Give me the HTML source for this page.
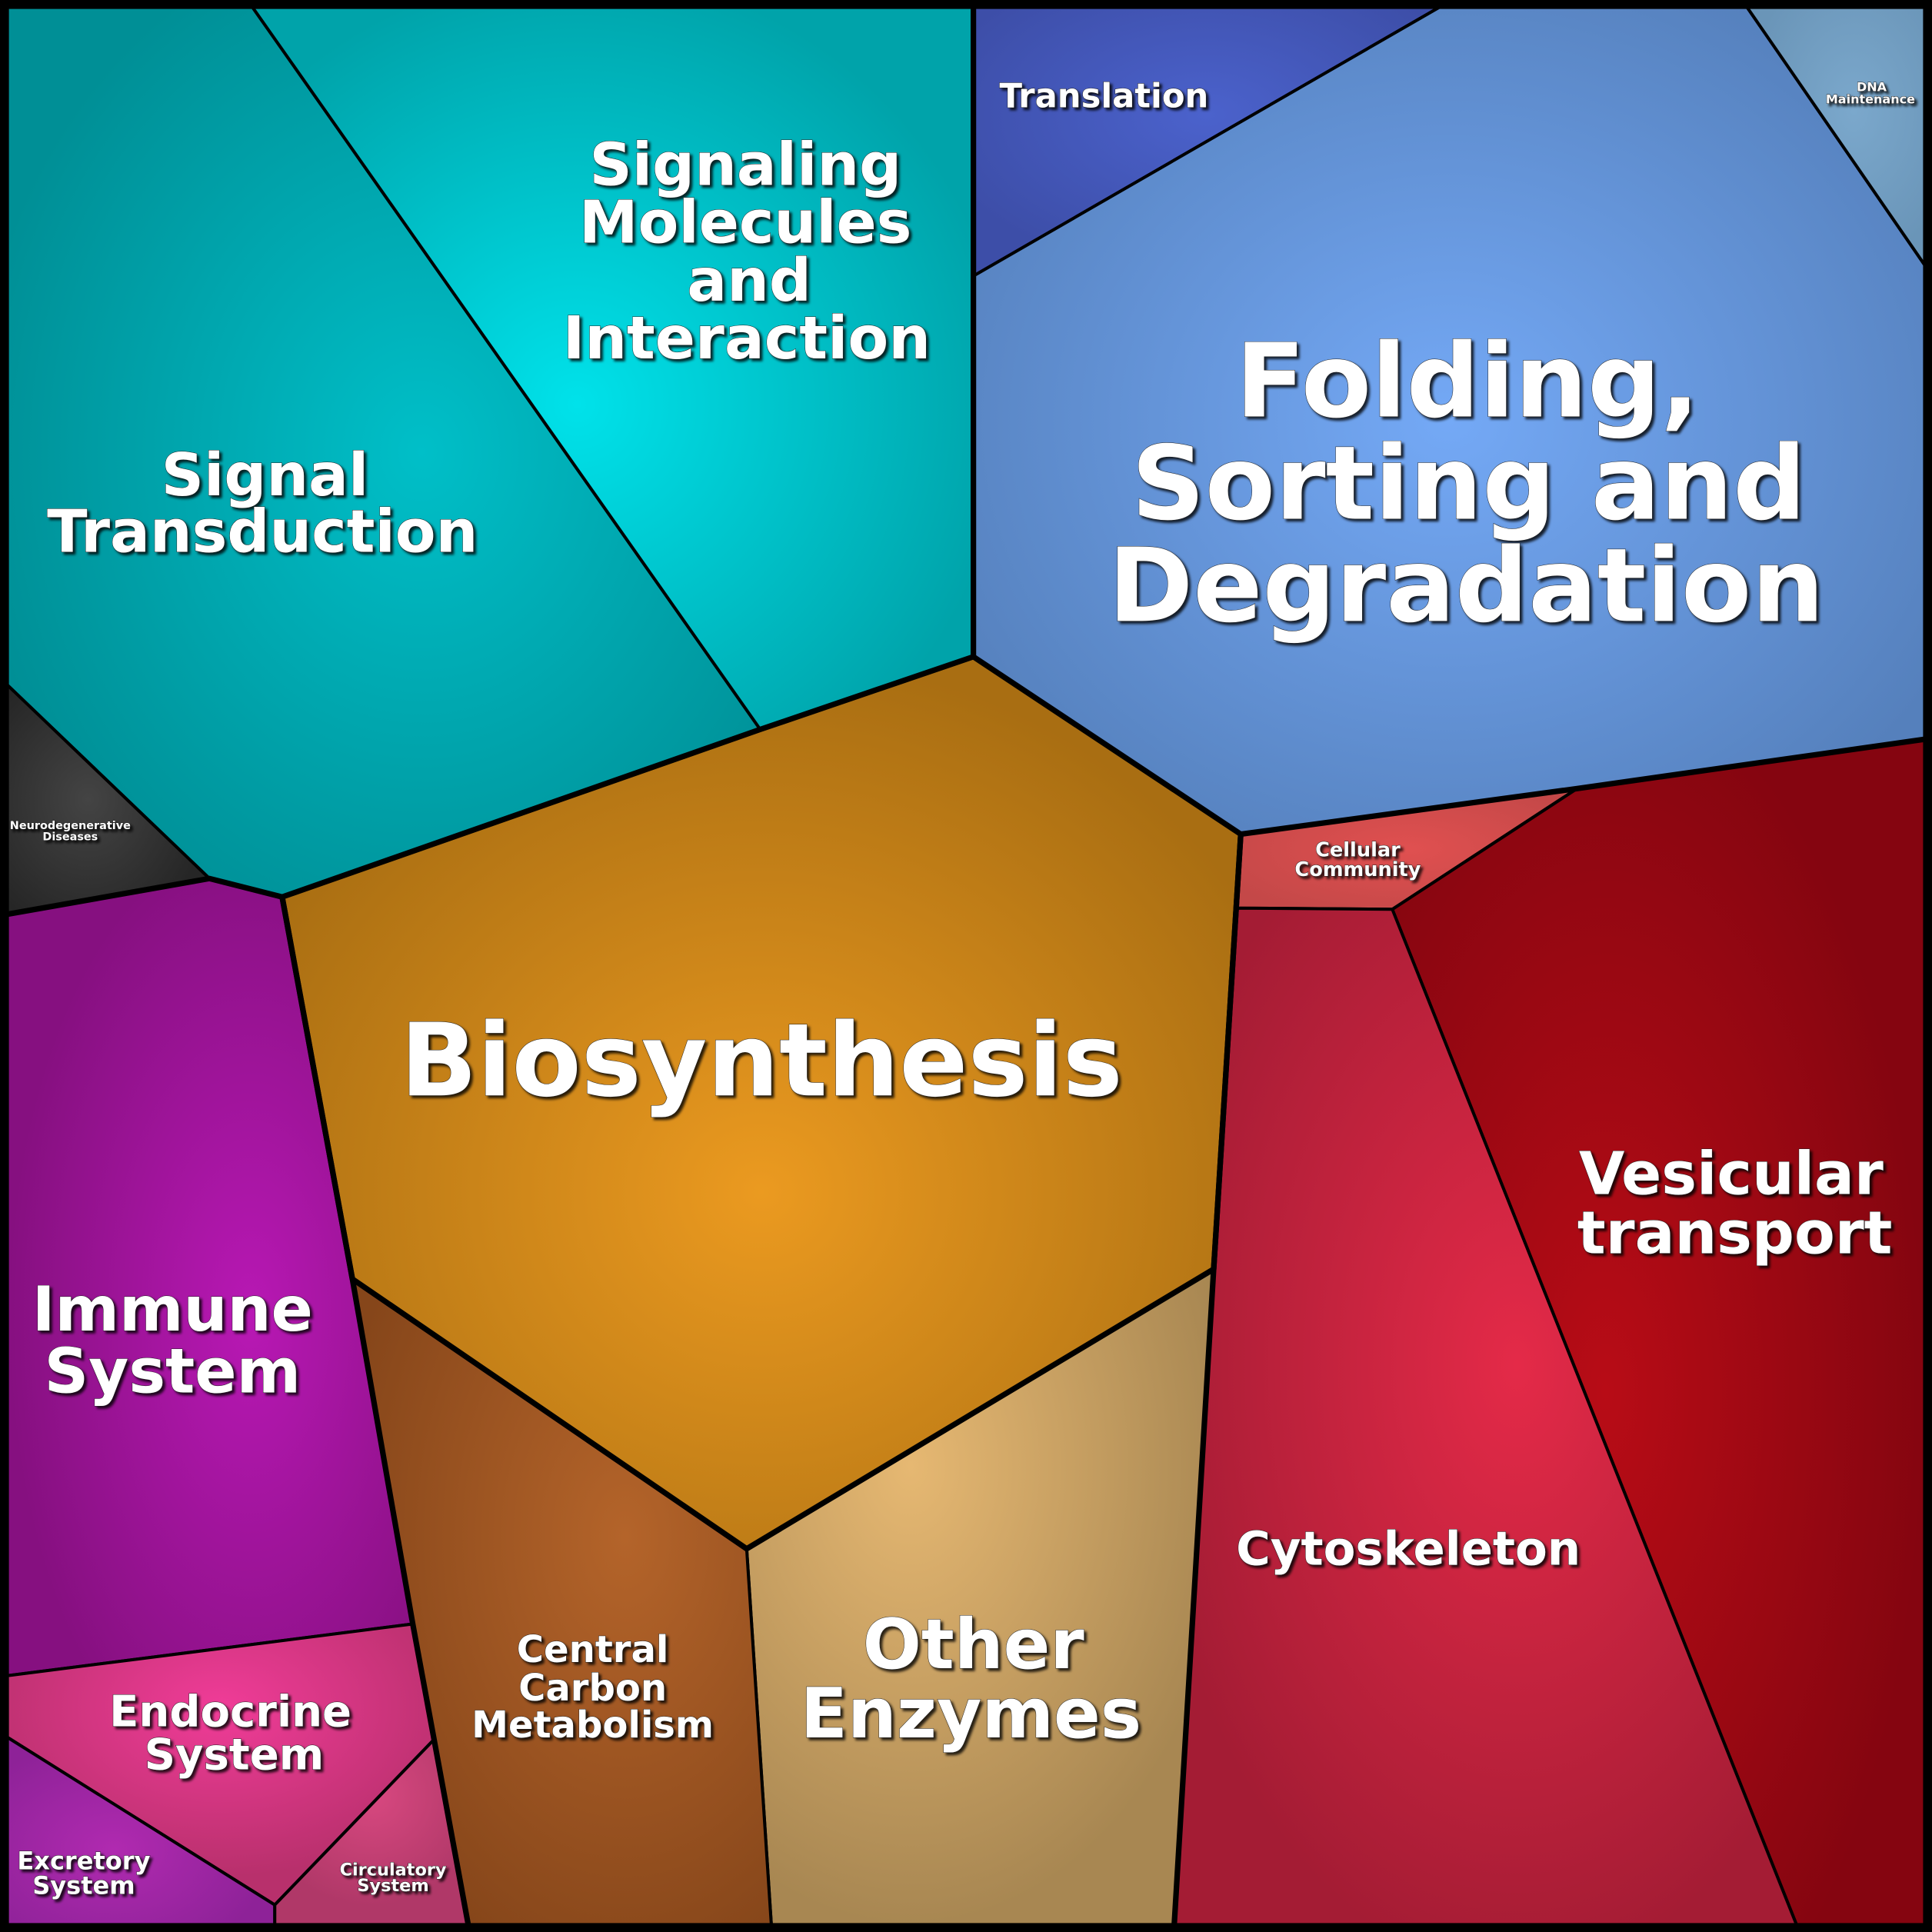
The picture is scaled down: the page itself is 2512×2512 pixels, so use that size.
<!DOCTYPE html>
<html><head><meta charset="utf-8"><style>
html,body{margin:0;padding:0;background:#000;}
svg{display:block;}
text{font-family:"DejaVu Sans","Liberation Sans",sans-serif;font-weight:bold;fill:#fff;text-anchor:middle;paint-order:stroke;stroke:#222;stroke-width:0.6px;}
</style></head><body>
<svg width="2512" height="2512" viewBox="0 0 1568 1568" xmlns="http://www.w3.org/2000/svg">
<defs>
<filter id="sh" x="-10%" y="-10%" width="120%" height="120%"><feDropShadow dx="2" dy="2" stdDeviation="1" flood-color="#000" flood-opacity="0.8"/></filter>
<radialGradient id="gST" cx="0.55" cy="0.5" r="0.6"><stop offset="0" stop-color="#00bfc8"/><stop offset="1" stop-color="#008f96"/></radialGradient>
<radialGradient id="gSM" cx="0.45" cy="0.55" r="0.6"><stop offset="0" stop-color="#00e2ea"/><stop offset="1" stop-color="#00a3aa"/></radialGradient>
<radialGradient id="gTr" cx="0.5" cy="0.4" r="0.6"><stop offset="0" stop-color="#4b62cc"/><stop offset="1" stop-color="#3d4ea8"/></radialGradient>
<radialGradient id="gFo" cx="0.5" cy="0.5" r="0.6"><stop offset="0" stop-color="#74a9f6"/><stop offset="1" stop-color="#5580bc"/></radialGradient>
<radialGradient id="gDN" cx="0.6" cy="0.4" r="0.6"><stop offset="0" stop-color="#7ba8cc"/><stop offset="1" stop-color="#6a95b8"/></radialGradient>
<radialGradient id="gNe" cx="0.4" cy="0.5" r="0.6"><stop offset="0" stop-color="#444"/><stop offset="1" stop-color="#262626"/></radialGradient>
<radialGradient id="gBi" cx="0.5" cy="0.6" r="0.6"><stop offset="0" stop-color="#eb9a20"/><stop offset="1" stop-color="#a96e12"/></radialGradient>
<radialGradient id="gCC" cx="0.5" cy="0.5" r="0.6"><stop offset="0" stop-color="#e05050"/><stop offset="1" stop-color="#c44848"/></radialGradient>
<radialGradient id="gVe" cx="0.4" cy="0.55" r="0.6"><stop offset="0" stop-color="#b80c16"/><stop offset="1" stop-color="#850510"/></radialGradient>
<radialGradient id="gCy" cx="0.55" cy="0.45" r="0.6"><stop offset="0" stop-color="#e42a48"/><stop offset="1" stop-color="#a41c34"/></radialGradient>
<radialGradient id="gOE" cx="0.35" cy="0.3" r="0.7"><stop offset="0" stop-color="#e6b872"/><stop offset="1" stop-color="#a88752"/></radialGradient>
<radialGradient id="gCe" cx="0.65" cy="0.4" r="0.7"><stop offset="0" stop-color="#b4642a"/><stop offset="1" stop-color="#86461a"/></radialGradient>
<radialGradient id="gIm" cx="0.6" cy="0.55" r="0.6"><stop offset="0" stop-color="#b818b4"/><stop offset="1" stop-color="#861080"/></radialGradient>
<radialGradient id="gEn" cx="0.5" cy="0.3" r="0.6"><stop offset="0" stop-color="#f03c98"/><stop offset="1" stop-color="#b8306c"/></radialGradient>
<radialGradient id="gEx" cx="0.4" cy="0.6" r="0.6"><stop offset="0" stop-color="#b02ab0"/><stop offset="1" stop-color="#8e2298"/></radialGradient>
<radialGradient id="gCi" cx="0.5" cy="0.3" r="0.6"><stop offset="0" stop-color="#d84880"/><stop offset="1" stop-color="#b03868"/></radialGradient>
</defs>
<rect width="1568" height="1568" fill="#000"/>
<g stroke="#000" stroke-width="2.5" stroke-linejoin="round">
<polygon fill="url(#gST)" points="6,6 205,6 617,592 229,728 170,713 6,556"/>
<polygon fill="url(#gSM)" points="205,6 790,6 790,533 617,592"/>
<polygon fill="url(#gTr)" points="790,6 1168,6 790,224"/>
<polygon fill="url(#gFo)" points="1168,6 1418,6 1562,215 1562,600 1280,640 1007,677 790,533 790,224"/>
<polygon fill="url(#gDN)" points="1418,6 1562,6 1562,215"/>
<polygon fill="url(#gNe)" points="6,556 170,713 6,742"/>
<polygon fill="url(#gCC)" points="1007,677 1280,640 1130,738 1004,737"/>
<polygon fill="url(#gVe)" points="1280,640 1562,600 1562,1562 1458,1562 1130,738"/>
<polygon fill="url(#gCy)" points="1004,737 1130,738 1458,1562 953,1562 985,1030"/>
<polygon fill="url(#gOE)" points="985,1030 953,1562 626,1562 606,1257"/>
<polygon fill="url(#gCe)" points="286,1038 606,1257 626,1562 380,1562 352,1412 335,1318"/>
<polygon fill="url(#gIm)" points="6,742 170,713 229,728 286,1038 335,1318 6,1360"/>
<polygon fill="url(#gEn)" points="6,1360 335,1318 352,1412 223,1546 6,1410"/>
<polygon fill="url(#gEx)" points="6,1410 223,1546 223,1562 6,1562"/>
<polygon fill="url(#gCi)" points="223,1546 352,1412 380,1562 223,1562"/>
<polygon fill="url(#gBi)" stroke-width="4.5" points="229,728 617,592 790,533 1007,677 985,1030 606,1257 286,1038"/>
</g>
<g fill="none" stroke="#000" stroke-width="4.5">
<polyline points="790,6 790,533"/>
<polyline points="6,742 170,713 229,728"/>
<polyline points="1007,677 1280,640 1562,600"/>
<polyline points="1007,677 985,1030 953,1562"/>
<polyline points="229,728 286,1038 335,1318 380,1562"/>
<rect x="3" y="3" width="1562" height="1562" stroke-width="7"/>
</g>
<g filter="url(#sh)">
<text font-size="48" x="215" y="402">Signal</text>
<text font-size="48" x="213" y="448">Transduction</text>
<text font-size="48" x="605" y="150">Signaling</text>
<text font-size="48" x="605" y="197">Molecules</text>
<text font-size="48" x="608" y="244">and</text>
<text font-size="48" x="606" y="291">Interaction</text>
<text font-size="27" x="896" y="87">Translation</text>
<text font-size="83" x="1191" y="338">Folding,</text>
<text font-size="83" x="1192" y="421">Sorting and</text>
<text font-size="83" x="1190" y="504">Degradation</text>
<text font-size="10" x="1519" y="74" stroke-width="0.3">DNA</text>
<text font-size="10" x="1518" y="84" stroke-width="0.3">Maintenance</text>
<text font-size="9" x="57" y="673" stroke-width="0.3">Neurodegenerative</text>
<text font-size="9" x="57" y="682" stroke-width="0.3">Diseases</text>
<text font-size="82" x="618" y="889">Biosynthesis</text>
<text font-size="16" x="1102" y="695">Cellular</text>
<text font-size="16" x="1102" y="711">Community</text>
<text font-size="48" x="1405" y="969">Vesicular</text>
<text font-size="48" x="1408" y="1017">transport</text>
<text font-size="38" x="1143" y="1270">Cytoskeleton</text>
<text font-size="56" x="790" y="1354">Other</text>
<text font-size="56" x="788" y="1410">Enzymes</text>
<text font-size="30" x="481" y="1349">Central</text>
<text font-size="30" x="481" y="1380">Carbon</text>
<text font-size="30" x="481" y="1410">Metabolism</text>
<text font-size="50" x="140" y="1080">Immune</text>
<text font-size="50" x="140" y="1130">System</text>
<text font-size="35" x="187" y="1401">Endocrine</text>
<text font-size="35" x="190" y="1436">System</text>
<text font-size="20" x="68" y="1517">Excretory</text>
<text font-size="20" x="68" y="1537">System</text>
<text font-size="14" x="319" y="1522" stroke-width="0.4">Circulatory</text>
<text font-size="14" x="319" y="1535" stroke-width="0.4">System</text>
</g>
</svg>
</body></html>
